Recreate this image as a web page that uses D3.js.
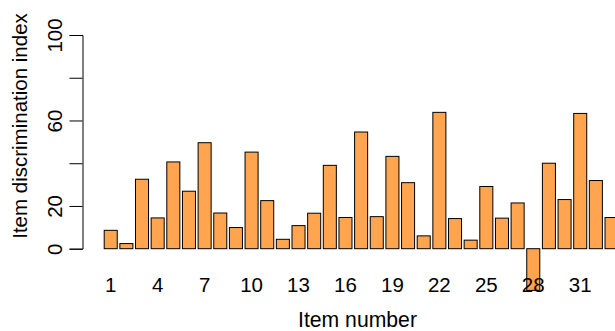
<!DOCTYPE html>
<html>
<head>
<meta charset="utf-8">
<script src="https://cdn.jsdelivr.net/npm/d3@7"></script>
<style>
  body { margin: 0; background: #fff; }
  text { font-family: "Liberation Sans", Arial, Helvetica, sans-serif; }
</style>
</head>
<body>
<div id="chart-area"></div>
<script>

// data
let items = d3.range(1, 34);
let discrimination = [8.6, 2.4, 32.5, 14.4, 40.6, 26.9, 49.6, 16.7, 9.9, 45.2,
	22.5, 4.4, 10.8, 16.6, 39.0, 14.6, 54.6, 15.0, 43.2, 30.9,
	6.0, 63.8, 14.1, 4.0, 29.1, 14.3, 21.4, -19.5, 40.0, 23.0,
	63.3, 31.9, 14.6];
let xTickLabels = [1, 4, 7, 10, 13, 16, 19, 22, 25, 28, 31];
let yTicks = [0, 20, 40, 60, 80, 100];
let yTickLabels = [0, 20, 60, 100];

let width = 615,
	height = 331;

let data = items.map((d, i) => ({item: d, value: discrimination[i]}));

let svg = d3.select("#chart-area").append("svg")
	.attr("width", width)
	.attr("height", height);

let step = 15.65;
let x = d3.scaleBand()
	.domain(items)
	.range([104.2 - step / 12, 104.2 - step / 12 + items.length * step])
	.paddingInner(1 / 6)
	.paddingOuter(1 / 12);

let y = d3.scaleLinear()
	.domain([0, 100])
	.range([248.7, 35]);

// bars
svg.selectAll(".bar").data(data)
	.enter()
	.append("rect")
	.attr("class", "bar")
	.attr("x", d => x(d.item))
	.attr("width", x.bandwidth())
	.attr("y", d => y(Math.max(0, d.value)))
	.attr("height", d => Math.abs(y(d.value) - y(0)))
	.attr("fill", "#FFA54F")
	.attr("stroke", "#000")
	.attr("stroke-width", 1);

// x labels (no axis line, no ticks)
let xAxis = svg.append("g")
	.attr("transform", "translate(0,277)")
	.call(d3.axisBottom(x).tickValues(xTickLabels).tickSize(0).tickPadding(0));
xAxis.select(".domain").remove();
xAxis.selectAll("text")
	.attr("y", 0)
	.attr("dy", "0.71em")
	.attr("font-size", 20.5)
	.attr("fill", "#000")
	.style("font-family", "Liberation Sans, Arial, sans-serif");

// y axis
let yAxis = svg.append("g")
	.attr("transform", "translate(82.5,0)")
	.call(d3.axisLeft(y).tickValues(yTicks).tickSizeOuter(0).tickSize(13)
		.tickFormat(d => yTickLabels.includes(d) ? d : ""));
yAxis.select(".domain").attr("stroke", "#000").attr("stroke-width", 1);
yAxis.selectAll(".tick line").attr("stroke", "#000");
yAxis.selectAll(".tick text")
	.attr("x", 0)
	.attr("dy", 0)
	.attr("text-anchor", "middle")
	.attr("transform", "translate(-20.5,0) rotate(-90)")
	.attr("font-size", 20.5)
	.attr("fill", "#000")
	.style("font-family", "Liberation Sans, Arial, sans-serif");

// axis titles
svg.append("text")
	.attr("x", 357.5)
	.attr("y", 327)
	.attr("text-anchor", "middle")
	.attr("font-size", 21.2)
	.text("Item number");

svg.append("text")
	.attr("transform", "translate(27,126) rotate(-90)")
	.attr("text-anchor", "middle")
	.attr("font-size", 20.5)
	.text("Item discrimination index");

</script>
</body>
</html>
